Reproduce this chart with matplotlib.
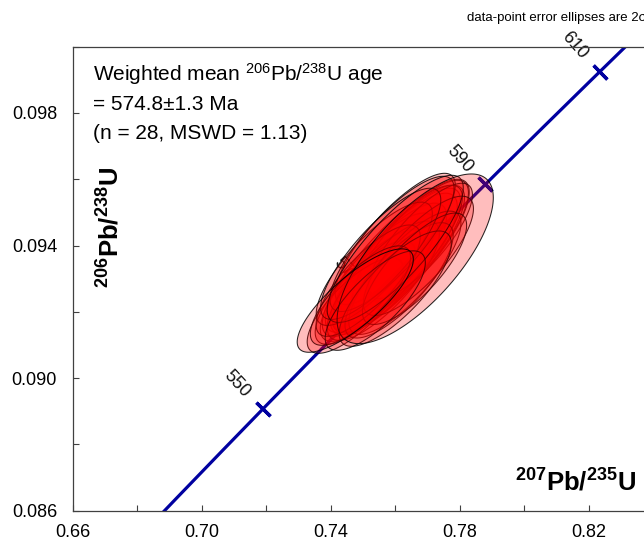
import numpy as np
import matplotlib
matplotlib.use("Agg")
import matplotlib.pyplot as plt

plt.rcParams['font.family'] = ['Liberation Sans', 'DejaVu Sans']
plt.rcParams['mathtext.fontset'] = 'custom'
plt.rcParams['mathtext.rm'] = 'Liberation Sans'
plt.rcParams['mathtext.it'] = 'Liberation Sans:italic'
plt.rcParams['mathtext.bf'] = 'Liberation Sans:bold'

# ---- data: 207Pb/235U, 206Pb/238U, 1-sigma errors, error correlation ----
x207_235 = [0.7600, 0.7616, 0.7579, 0.7631, 0.7554, 0.7610, 0.7529, 0.7647,
            0.7591, 0.7507, 0.7600, 0.7563, 0.7678, 0.7476, 0.7630, 0.7535,
            0.7612, 0.7672, 0.7516, 0.7590, 0.7555, 0.7660, 0.7492, 0.7600,
            0.7600, 0.7538, 0.7662, 0.7476]
y206_238 = [0.09348, 0.09369, 0.09330, 0.09384, 0.09318, 0.09360, 0.09279, 0.09399,
            0.09354, 0.09258, 0.09420, 0.09294, 0.09414, 0.09219, 0.09318, 0.09345,
            0.09295, 0.09369, 0.09294, 0.09405, 0.09375, 0.09330, 0.09249, 0.09270,
            0.09390, 0.09234, 0.09360, 0.09234]
sx_1s = [0.00963, 0.00932, 0.00901, 0.00994, 0.00854, 0.01025, 0.00808, 0.00901,
         0.01087, 0.00777, 0.00932, 0.00870, 0.00808, 0.00746, 0.00870, 0.00901,
         0.00839, 0.00854, 0.00808, 0.00963, 0.00932, 0.00808, 0.00777, 0.00870,
         0.01056, 0.00777, 0.01212, 0.00901]
sy_1s = [0.00105, 0.00102, 0.00099, 0.00108, 0.00090, 0.00111, 0.00084, 0.00099,
         0.00114, 0.00078, 0.00099, 0.00090, 0.00087, 0.00072, 0.00093, 0.00093,
         0.00087, 0.00090, 0.00084, 0.00102, 0.00099, 0.00084, 0.00075, 0.00087,
         0.00111, 0.00075, 0.00128, 0.00078]
rho = [0.81, 0.82, 0.80, 0.82, 0.79, 0.83, 0.78, 0.81, 0.84, 0.77, 0.82, 0.79,
       0.80, 0.76, 0.80, 0.81, 0.78, 0.79, 0.79, 0.82, 0.82, 0.78, 0.77, 0.78,
       0.83, 0.76, 0.72, 0.80]

tick_ages = [550, 570, 590, 610]          # Ma, concordia age marks
x_ticks = [0.66, 0.68, 0.70, 0.72, 0.74, 0.76, 0.78, 0.80, 0.82, 0.84]
x_labels = ['0.66', '', '0.70', '', '0.74', '', '0.78', '', '0.82', '']
y_ticks = [0.086, 0.088, 0.090, 0.092, 0.094, 0.096, 0.098, 0.100]
y_labels = ['0.086', '', '0.090', '', '0.094', '', '0.098', '']

LAMBDA238 = 1.55125e-10
LAMBDA235 = 9.8485e-10

def concordia(t_ma):
    t = np.asarray(t_ma, dtype=float) * 1e6
    return np.exp(LAMBDA235 * t) - 1, np.exp(LAMBDA238 * t) - 1

W, H = 644, 542
fig = plt.figure(figsize=(W / 100, H / 100), dpi=100)
left, right, top, bottom = 73, 653, 46.7, 510.7
ax = fig.add_axes([left / W, 1 - bottom / H, (right - left) / W, (bottom - top) / H])
ax.set_xlim(0.66, 0.84)
ax.set_ylim(0.086, 0.100)

for s in ax.spines.values():
    s.set_color('#404040')
    s.set_linewidth(0.9)

ax.set_xticks(x_ticks)
ax.set_xticklabels(x_labels)
ax.set_yticks(y_ticks)
ax.set_yticklabels(y_labels)
ax.tick_params(direction='in', length=4, width=0.8, color='#404040',
               labelsize=13, top=False, right=False)
ax.tick_params(axis='x', pad=9.5)
ax.tick_params(axis='y', pad=11.5)

# concordia curve
ages = np.linspace(500, 660, 400)
cx, cy = concordia(ages)
line_col = '#0000A0'
ax.plot(cx, cy, color=line_col, lw=2.3, zorder=1, solid_capstyle='butt')

# concordia age ticks + labels
fig.canvas.draw()
for a in tick_ages:
    x0, y0 = concordia(a)
    x1, y1 = concordia(a + 0.5)
    p0 = ax.transData.transform((x0, y0))
    p1 = ax.transData.transform((x1, y1))
    th = np.degrees(np.arctan2(p1[1] - p0[1], p1[0] - p0[0]))
    ax.plot([x0], [y0], marker=(2, 2, th), ms=14, mew=2.4, color=line_col,
            zorder=1.5, linestyle='none')
    r = np.radians(th)
    d = 26
    ax.annotate(f"{a}", (x0, y0), xytext=(-d * np.sin(r), d * np.cos(r)),
                textcoords='offset points', ha='center', va='center',
                rotation=th - 93, fontsize=13, color='#111111', zorder=1.5,
                rotation_mode='anchor')

# error ellipses (2 sigma)
theta = np.linspace(0, 2 * np.pi, 200)
for xi, yi, sx, sy, r in zip(x207_235, y206_238, sx_1s, sy_1s, rho):
    ex = xi + 2 * sx * np.cos(theta)
    ey = yi + 2 * sy * (r * np.cos(theta) + np.sqrt(1 - r * r) * np.sin(theta))
    ax.fill(ex, ey, facecolor=(1, 0, 0, 0.26), edgecolor=(0, 0, 0, 0.85),
            lw=0.75, zorder=3)

# annotation text
tx = (93 - left) / (right - left)
fs = 15
ax.text(tx, 1 - (74 - top) / (bottom - top), r"Weighted mean $^{206}$Pb/$^{238}$U age",
        transform=ax.transAxes, fontsize=fs, va='center', ha='left', zorder=5)
ax.text(tx, 1 - (104 - top) / (bottom - top), "= 574.8\u00b11.3 Ma",
        transform=ax.transAxes, fontsize=fs, va='center', ha='left', zorder=5)
ax.text(tx, 1 - (134 - top) / (bottom - top), "(n = 28, MSWD = 1.13)",
        transform=ax.transAxes, fontsize=fs, va='center', ha='left', zorder=5)

# axis titles inside plot
ax.text((110 - left) / (right - left), 1 - (227 - top) / (bottom - top),
        r"$\mathbf{^{206}Pb/^{238}U}$", transform=ax.transAxes, rotation=90,
        fontsize=18.5, ha='center', va='center', zorder=5)
ax.text((576 - left) / (right - left), 1 - (483 - top) / (bottom - top),
        r"$\mathbf{^{207}Pb/^{235}U}$", transform=ax.transAxes,
        fontsize=18.5, ha='center', va='center', zorder=5)

fig.text(1.004, 1 - 18 / H, "data-point error ellipses are 2\u03c3", ha='right',
         va='center', fontsize=9.5)

fig.savefig("out.png", dpi=100)
